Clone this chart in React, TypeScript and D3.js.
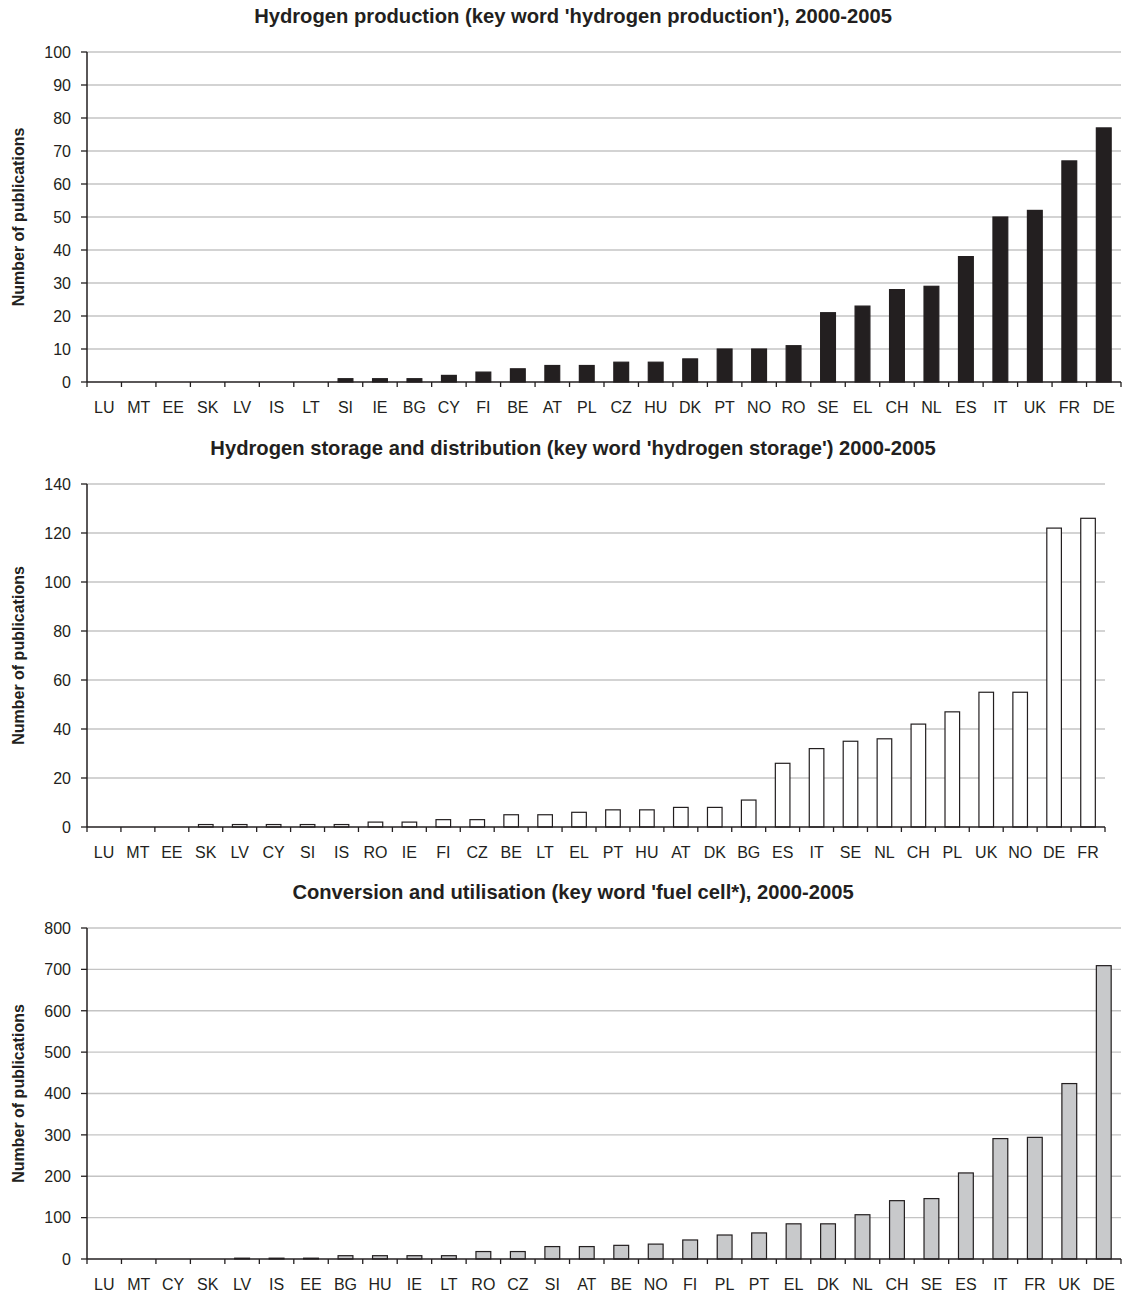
import * as d3 from 'd3';

const prodCountries = ['LU', 'MT', 'EE', 'SK', 'LV', 'IS', 'LT', 'SI', 'IE', 'BG', 'CY', 'FI', 'BE', 'AT', 'PL', 'CZ', 'HU', 'DK', 'PT', 'NO', 'RO', 'SE', 'EL', 'CH', 'NL', 'ES', 'IT', 'UK', 'FR', 'DE'];
const prodValues = [0, 0, 0, 0, 0, 0, 0, 1, 1, 1, 2, 3, 4, 5, 5, 6, 6, 7, 10, 10, 11, 21, 23, 28, 29, 38, 50, 52, 67, 77];
const prodTicks = [0, 10, 20, 30, 40, 50, 60, 70, 80, 90, 100];

const storCountries = ['LU', 'MT', 'EE', 'SK', 'LV', 'CY', 'SI', 'IS', 'RO', 'IE', 'FI', 'CZ', 'BE', 'LT', 'EL', 'PT', 'HU', 'AT', 'DK', 'BG', 'ES', 'IT', 'SE', 'NL', 'CH', 'PL', 'UK', 'NO', 'DE', 'FR'];
const storValues = [0, 0, 0, 1, 1, 1, 1, 1, 2, 2, 3, 3, 5, 5, 6, 7, 7, 8, 8, 11, 26, 32, 35, 36, 42, 47, 55, 55, 122, 126];
const storTicks = [0, 20, 40, 60, 80, 100, 120, 140];

const fuelCountries = ['LU', 'MT', 'CY', 'SK', 'LV', 'IS', 'EE', 'BG', 'HU', 'IE', 'LT', 'RO', 'CZ', 'SI', 'AT', 'BE', 'NO', 'FI', 'PL', 'PT', 'EL', 'DK', 'NL', 'CH', 'SE', 'ES', 'IT', 'FR', 'UK', 'DE'];
const fuelValues = [0, 0, 0, 0, 2, 2, 2, 8, 8, 8, 8, 18, 18, 30, 30, 33, 36, 46, 58, 63, 85, 85, 107, 141, 146, 208, 291, 294, 424, 709];
const fuelTicks = [0, 100, 200, 300, 400, 500, 600, 700, 800];

const INK = '#231f20';
const GRID = '#c4c4c4';
const FONT = 'Liberation Sans, Arial, Helvetica, sans-serif';

interface PanelProps {
  title: string;
  countries: string[];
  values: number[];
  ticks: number[];
  top: number;
  bottom: number;
  right: number;
  fill: string;
}

function Panel({ title, countries, values, ticks, top, bottom, right, fill }: PanelProps) {
  const left = 87;
  const x = d3.scaleBand<string>().domain(countries).range([left, right]).paddingInner(0.57).paddingOuter(0.285);
  const y = d3.scaleLinear().domain([0, ticks[ticks.length - 1]]).range([bottom, top]);
  const step = x.step();
  const bounds = d3.range(countries.length + 1).map(i => left + i * step);

  return (
    <g>
      <text x={573} y={top - 29} textAnchor="middle" fontFamily={FONT} fontWeight="bold" fontSize={20.2} fill={INK}>
        {title}
      </text>
      <text
        transform={`translate(24,${(top + bottom) / 2}) rotate(-90)`}
        textAnchor="middle"
        fontFamily={FONT}
        fontWeight="bold"
        fontSize={16}
        fill={INK}
      >
        Number of publications
      </text>

      {/* grid + y ticks */}
      {ticks.map(t => (
        <g key={t}>
          {t > 0 && <line x1={left} x2={right} y1={y(t)} y2={y(t)} stroke={GRID} strokeWidth={1.4} />}
          <line x1={left - 6} x2={left} y1={y(t)} y2={y(t)} stroke={INK} strokeWidth={1.3} />
          <text x={left - 16} y={y(t)} dy="0.36em" textAnchor="end" fontFamily={FONT} fontSize={16} fill={INK}>
            {t}
          </text>
        </g>
      ))}

      {/* bars */}
      {countries.map((c, i) =>
        values[i] > 0 ? (
          <rect
            key={c}
            x={x(c)}
            y={y(values[i])}
            width={x.bandwidth()}
            height={y(0) - y(values[i])}
            fill={fill}
            stroke={INK}
            strokeWidth={1.2}
          />
        ) : null
      )}

      {/* axes */}
      <line x1={left} x2={left} y1={top} y2={bottom} stroke={INK} strokeWidth={1.5} />
      <line x1={left} x2={right} y1={bottom} y2={bottom} stroke={INK} strokeWidth={1.5} />
      {bounds.map((b, i) => (
        <line key={i} x1={b} x2={b} y1={bottom} y2={bottom + 5} stroke={INK} strokeWidth={1.3} />
      ))}
      {countries.map(c => (
        <text key={c} x={(x(c) ?? 0) + x.bandwidth() / 2} y={bottom + 31} textAnchor="middle" fontFamily={FONT} fontSize={16} fill={INK}>
          {c}
        </text>
      ))}
    </g>
  );
}

export default function App() {
  return (
    <svg width={1123} height={1293} style={{ position: 'absolute', left: 0, top: 0, background: '#fff' }}>
      <rect width={1123} height={1293} fill="#fff" />
      <Panel
        title="Hydrogen production (key word 'hydrogen production'), 2000-2005"
        countries={prodCountries}
        values={prodValues}
        ticks={prodTicks}
        top={52}
        bottom={382}
        right={1121}
        fill={INK}
      />
      <Panel
        title="Hydrogen storage and distribution (key word 'hydrogen storage') 2000-2005"
        countries={storCountries}
        values={storValues}
        ticks={storTicks}
        top={484}
        bottom={827}
        right={1105}
        fill="#ffffff"
      />
      <Panel
        title="Conversion and utilisation (key word 'fuel cell*), 2000-2005"
        countries={fuelCountries}
        values={fuelValues}
        ticks={fuelTicks}
        top={928}
        bottom={1259}
        right={1121}
        fill="#c8c9cb"
      />
    </svg>
  );
}
